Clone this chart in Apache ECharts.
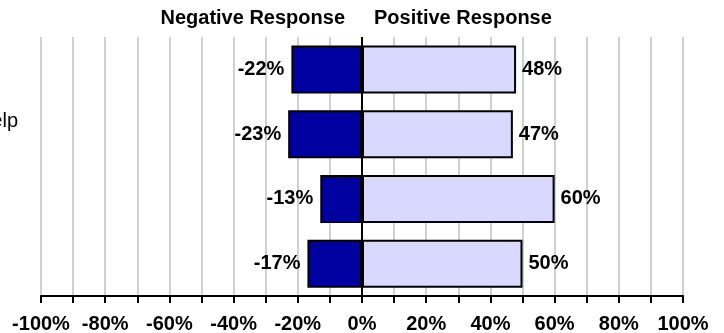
<!DOCTYPE html>
<html>
<head>
<meta charset="utf-8">
<script src="https://cdn.jsdelivr.net/npm/echarts@6/dist/echarts.min.js"></script>
<style>
  html, body { margin: 0; padding: 0; background: #ffffff; }
  #chart { width: 724px; height: 333px; }
</style>
</head>
<body>
<div id="chart"></div>
<script>
// Survey statements, top to bottom
const categories = [
  'Information was clear',
  'Staff were friendly and always willing to help\nwith my questions',
  'Services met my needs',
  'I would come back again'
];
// Share of negative and positive answers, in percent
const negativeValues = [-22, -23, -13, -17];
const positiveValues = [48, 47, 60, 50];
// Axis range and tick spacing, in percent
const axisMin = -100;
const axisMax = 100;
const axisStep = 10;
const headers = ['Negative Response', 'Positive Response'];

const FONT = '"Liberation Sans", Arial, Helvetica, sans-serif';
const LABEL_SIZE = 20;
const BOLD_SIZE = 20;
const AXIS_X = 41;

// Category labels are left-aligned in a column that starts beyond the left edge
const ctx = document.createElement('canvas').getContext('2d');
ctx.font = LABEL_SIZE + 'px ' + FONT;
const longestLine = Math.max.apply(null, categories.map(c => ctx.measureText(c.split('\n')[0]).width));
const labelMargin = AXIS_X - 18 + longestLine;

const chart = echarts.init(document.getElementById('chart'), null, { renderer: 'canvas' });

const valueLabel = {
  show: true,
  color: '#000000',
  fontFamily: FONT,
  fontWeight: 'bold',
  fontSize: BOLD_SIZE,
  formatter: p => p.value + '%'
};

chart.setOption({
  animation: false,
  backgroundColor: '#ffffff',
  title: [
    {
      text: headers[0], right: 379, top: 8, padding: 0,
      textStyle: { fontFamily: FONT, fontWeight: 'bold', fontSize: BOLD_SIZE, color: '#000000' }
    },
    {
      text: headers[1], left: 374, top: 8, padding: 0,
      textStyle: { fontFamily: FONT, fontWeight: 'bold', fontSize: BOLD_SIZE, color: '#000000' }
    }
  ],
  grid: { left: AXIS_X, right: 41, top: 37, bottom: 37, containLabel: false, outerBoundsMode: 'none' },
  xAxis: {
    type: 'value',
    min: axisMin,
    max: axisMax,
    interval: axisStep,
    position: 'bottom',
    axisLine: { show: true, onZero: false, lineStyle: { color: '#000000', width: 2 } },
    axisTick: { show: true, length: 7, lineStyle: { color: '#000000', width: 2 } },
    splitLine: { show: true, lineStyle: { color: '#d0d0d0', width: 2 } },
    axisLabel: {
      margin: 18,
      color: '#000000',
      fontFamily: FONT,
      fontWeight: 'bold',
      fontSize: BOLD_SIZE,
      hideOverlap: false,
      formatter: v => (Math.round(v) % 20 === 0 ? Math.round(v) + '%' : '')
    }
  },
  yAxis: {
    type: 'category',
    data: categories,
    inverse: true,
    axisLine: { show: false, onZero: false },
    axisTick: { show: false },
    splitLine: { show: false },
    axisLabel: {
      align: 'left',
      margin: labelMargin,
      color: '#000000',
      fontFamily: FONT,
      fontSize: LABEL_SIZE,
      lineHeight: 25
    }
  },
  series: [
    {
      name: headers[0],
      type: 'bar',
      stack: 'response',
      data: negativeValues,
      barWidth: 48,
      itemStyle: { color: '#0000a0', borderColor: '#000000', borderWidth: 2 },
      label: Object.assign({ position: 'left', distance: 7 }, valueLabel),
      markLine: {
        silent: true,
        symbol: 'none',
        label: { show: false },
        lineStyle: { color: '#000000', width: 2, type: 'solid' },
        data: [{ xAxis: 0 }],
        z: 10
      }
    },
    {
      name: headers[1],
      type: 'bar',
      stack: 'response',
      data: positiveValues,
      barWidth: 48,
      itemStyle: { color: '#d9d9ff', borderColor: '#000000', borderWidth: 2 },
      label: Object.assign({ position: 'right', distance: 6 }, valueLabel)
    }
  ]
});
</script>
</body>
</html>
